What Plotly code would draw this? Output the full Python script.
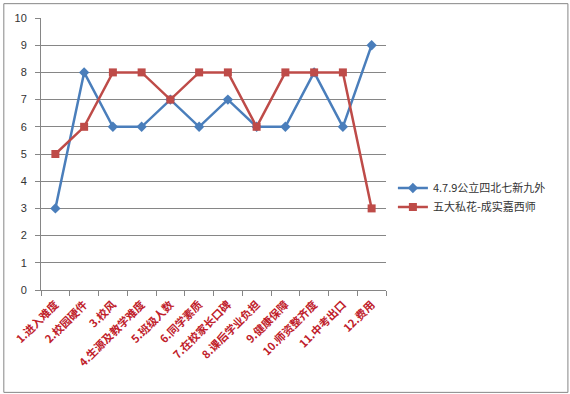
import plotly.graph_objects as go

categories = ["1.进入难度", "2.校园硬件", "3.校风", "4.生源及教学难度", "5.班级人数", "6.同学素质",
              "7.在校家长口碑", "8.课后学业负担", "9.健康保障", "10.师资整齐度", "11.中考出口", "12.费用"]
series_a_name = "4.7.9公立四北七新九外"
series_a = [3, 8, 6, 6, 7, 6, 7, 6, 6, 8, 6, 9]
series_b_name = "五大私花-成实嘉西师"
series_b = [5, 6, 8, 8, 7, 8, 8, 6, 8, 8, 8, 3]
y_ticks = [0, 1, 2, 3, 4, 5, 6, 7, 8, 9, 10]

W, H = 570, 394
ml, mr, mt, mb = 38, 184, 15, 104
pw, ph = W - ml - mr, H - mt - mb

fig = go.Figure()
fig.add_trace(go.Scatter(x=categories, y=series_a, name=series_a_name, mode="lines+markers",
                         line=dict(color="#4A7EBB", width=2.5),
                         marker=dict(symbol="diamond", size=8, color="#4A7EBB")))
fig.add_trace(go.Scatter(x=categories, y=series_b, name=series_b_name, mode="lines+markers",
                         line=dict(color="#BE4B48", width=2.5),
                         marker=dict(symbol="square", size=8, color="#BE4B48")))

fig.update_layout(
    width=W, height=H,
    margin=dict(l=ml, r=mr, t=mt, b=mb),
    paper_bgcolor="white", plot_bgcolor="white",
    showlegend=True,
    legend=dict(x=1.02, y=0.34, xanchor="left", yanchor="middle",
                font=dict(family="Noto Sans CJK SC", size=11, color="#333333"),
                bgcolor="rgba(0,0,0,0)", tracegroupgap=4),
    xaxis=dict(type="category", tickangle=-45, tickson="boundaries", ticks="outside", ticklen=5,
               tickcolor="#868686", showline=True, linecolor="#868686", linewidth=1,
               showgrid=False, range=[-0.5, 11.5], ticklabelstandoff=3,
               tickfont=dict(family="Noto Sans CJK SC", size=11, color="#C0202A", weight="bold")),
    yaxis=dict(range=[0, 10], tickvals=y_ticks, ticks="outside", ticklen=5, tickcolor="#868686",
               showline=True, linecolor="#868686", linewidth=1, ticklabelstandoff=6,
               showgrid=True, gridcolor="#868686", gridwidth=1, zeroline=False,
               tickfont=dict(family="Liberation Sans", size=11, color="#333333")),
    shapes=[dict(type="rect", xref="paper", yref="paper",
                 x0=(0.5 - ml) / pw, x1=(W - 0.5 - ml) / pw,
                 y0=(ph - (H - 0.5 - mt)) / ph, y1=(ph + mt - 0.5) / ph,
                 line=dict(color="#868686", width=1), fillcolor="rgba(0,0,0,0)", layer="below")],
)

fig.write_html("out.html")
